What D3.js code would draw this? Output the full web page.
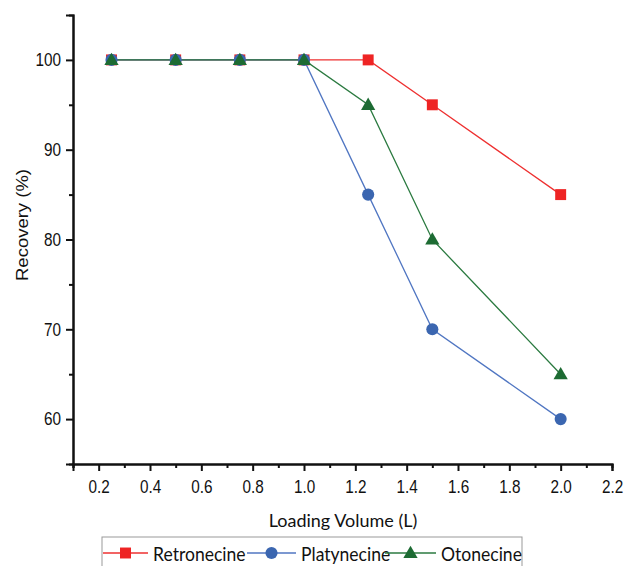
<!DOCTYPE html>
<html><head><meta charset="utf-8">
<script src="https://cdn.jsdelivr.net/npm/d3@7"></script>
<style>body{margin:0;background:#fff}svg{display:block}</style>
</head><body>
<svg id="c" width="624" height="566"></svg>
<script>
const volumes = [0.25, 0.5, 0.75, 1.0, 1.25, 1.5, 2.0];
const retronecine = [100, 100, 100, 100, 100, 95, 85];
const platynecine = [100, 100, 100, 100, 85, 70, 60];
const otonecine = [100, 100, 100, 100, 95, 80, 65];
const seriesNames = ["Retronecine", "Platynecine", "Otonecine"];
const xTicks = [0.2, 0.4, 0.6, 0.8, 1.0, 1.2, 1.4, 1.6, 1.8, 2.0, 2.2];
const yTicks = [60, 70, 80, 90, 100];

const svg = d3.select("#c");
const x = d3.scaleLinear().domain([0.1, 2.2]).range([73, 612]);
const y = d3.scaleLinear().domain([55, 105]).range([464, 15]);

const series = [
  {name: seriesNames[0], vals: retronecine, color: "#ee2424", line: "#ee3030", shape: d3.symbolSquare, size: 120},
  {name: seriesNames[1], vals: platynecine, color: "#3b66b0", line: "#5076c2", shape: d3.symbolCircle, size: 115},
  {name: seriesNames[2], vals: otonecine, color: "#1d6b33", line: "#2b7a40", shape: d3.symbolTriangle, size: 88}
];

// axes
const fontTick = "'Liberation Sans', Arial, sans-serif";
const xAxis = d3.axisBottom(x).tickValues(xTicks).tickFormat(d3.format(".1f")).tickSize(7).tickPadding(9);
const xMinor = d3.axisBottom(x).tickValues(d3.range(0.1, 2.2, 0.2).map(v => +v.toFixed(1))).tickSize(4).tickFormat("");
const yAxis = d3.axisLeft(y).tickValues(yTicks).tickFormat(d3.format("d")).tickSize(7).tickPadding(7);
const yMinor = d3.axisLeft(y).tickValues([65, 75, 85, 95]).tickSize(4).tickFormat("");

function style(g){
  g.select(".domain").attr("stroke", "#111").attr("stroke-width", 2);
  g.selectAll(".tick line").attr("stroke", "#111").attr("stroke-width", 2);
  g.selectAll(".tick text").attr("font-family", fontTick).attr("font-size", 18).attr("fill", "#111")
    .attr("transform", "scale(0.85,1)");
}
svg.append("g").attr("transform", "translate(0,464)").call(xMinor).call(style);
svg.append("g").attr("transform", "translate(0,464)").call(xAxis).call(style);
svg.append("g").attr("transform", "translate(73,0)").call(yMinor).call(style);
svg.append("g").attr("transform", "translate(73,0)").call(yAxis).call(style);

// titles
const fontTitle = "Lato, 'Open Sans', sans-serif";
svg.append("text").attr("x", 343).attr("y", 527).attr("text-anchor", "middle")
  .attr("font-family", fontTitle).attr("font-size", 18).attr("fill", "#111").text("Loading Volume (L)");
svg.append("text").attr("transform", "translate(28,225) rotate(-90) scale(1,0.85)").attr("text-anchor", "middle")
  .attr("font-family", fontTick).attr("font-size", 18.5).attr("fill", "#111").text("Recovery (%)");

// lines and markers
const line = d3.line().x((d, i) => x(volumes[i])).y(d => y(d));
series.forEach(s => {
  svg.append("path").datum(s.vals).attr("d", line).attr("fill", "none")
    .attr("stroke", s.line).attr("stroke-width", 1.3);
});
series.forEach(s => {
  svg.append("g").selectAll("path").data(s.vals).join("path")
    .attr("d", d3.symbol(s.shape, s.size))
    .attr("transform", (d, i) => `translate(${x(volumes[i])},${y(d) + (s.shape === d3.symbolTriangle ? 1 : 0)})`)
    .attr("fill", s.color);
});

// legend
const lg = svg.append("g");
lg.append("rect").attr("x", 102).attr("y", 537).attr("width", 420).attr("height", 40)
  .attr("fill", "#fff").attr("stroke", "#999").attr("stroke-width", 1);
const legLayout = [
  {x: 103, len: 45, tx: 50},
  {x: 247, len: 49, tx: 54},
  {x: 385, len: 51, tx: 56}
];
series.forEach((s, i) => {
  const L = legLayout[i];
  const g = lg.append("g").attr("transform", `translate(${L.x},553)`);
  g.append("line").attr("x1", 0).attr("x2", L.len).attr("y1", 0).attr("y2", 0).attr("stroke", s.line).attr("stroke-width", 1.3);
  g.append("path").attr("d", d3.symbol(s.shape, s.size)).attr("transform", `translate(${L.len / 2},${s.shape === d3.symbolTriangle ? 1 : 0})`).attr("fill", s.color);
  g.append("text").attr("transform", `translate(${L.tx},8) scale(0.9,1)`).attr("font-family", fontTitle).attr("font-size", 19.5).attr("fill", "#111").text(s.name);
});
</script>
</body></html>
